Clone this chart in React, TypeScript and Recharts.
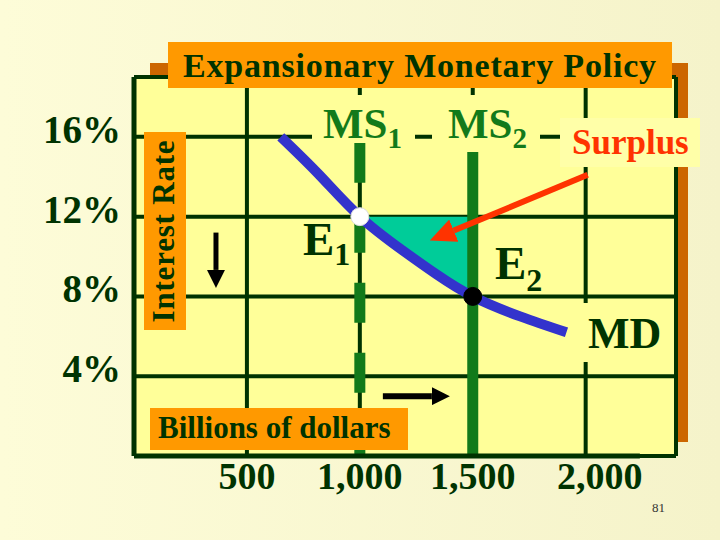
import { ComposedChart, Line, Area, XAxis, YAxis, CartesianGrid, ReferenceLine, ReferenceDot } from 'recharts';

// money market values
const xTicks = [500, 1000, 1500, 2000];
const yTicks = [4, 8, 12, 16];
const mdQuantity = [650, 820, 1000, 1190, 1340, 1500, 1710, 1915];
const mdRate = [16, 14.1, 12, 10.3, 9.1, 8, 7.0, 6.2];
const ms1Quantity = 1000;
const ms2Quantity = 1500;
const ms1Top = 15.7;
const ms2Top = 15.25;
const surplusRate = 12;
const e1 = { q: 1000, r: 12 };
const e2 = { q: 1500, r: 8 };
const axisEnd = 2240;

// annotation arrows (data units)
const surplusArrow = [{ x: 2009, y: 14.1 }, { x: 1416, y: 11.3 }];
const rateArrow = [{ x: 363, y: 11.2 }, { x: 363, y: 9.33 }];
const qtyArrow = [{ x: 1102, y: 3.0 }, { x: 1319, y: 3.0 }];

const data = mdQuantity.map((q, i) => ({
  q,
  md: mdRate[i],
  surplus: q >= ms1Quantity && q <= ms2Quantity ? [mdRate[i], surplusRate] : null,
}));

const DARK = '#003300';
const GREEN = '#127A1A';
const SERIF = '"Liberation Serif", "Times New Roman", serif';

const XTick = ({ x, y, payload }: any) => (
  <text x={x + (payload.value === 2000 ? 14 : 0)} y={y} dy="0.71em" textAnchor="middle"
    fill={DARK} fontSize={38} fontWeight="bold" fontFamily={SERIF}>
    {payload.value.toLocaleString('en-US')}
  </text>
);

const YTick = ({ y, payload }: any) => (
  <text x={121} y={y + 6} textAnchor="end" fill={DARK} fontSize={39} fontWeight="bold" fontFamily={SERIF}>
    {payload.value}%
  </text>
);

export default function App() {
  return (
    <div style={{ position: 'absolute', left: 0, top: 0, width: 720, height: 540, background: 'linear-gradient(to right, #FDFCD8, #F5F3CA)', overflow: 'hidden' }}>
      <div style={{ position: 'absolute', left: 150, top: 63, width: 538, height: 379, background: '#CC6600' }} />
      <svg width={0} height={0} style={{ position: 'absolute' }}>
        <defs>
          <marker id="headRed" markerUnits="userSpaceOnUse" markerWidth={26} markerHeight={24} refX={0} refY={12} orient="auto">
            <path d="M0,0 L26,12 L0,24 z" fill="#FF3300" />
          </marker>
          <marker id="headBlack" markerUnits="userSpaceOnUse" markerWidth={18} markerHeight={18} refX={0} refY={9} orient="auto">
            <path d="M0,0 L18,9 L0,18 z" fill="#000" />
          </marker>
        </defs>
      </svg>
      <div style={{ position: 'absolute', left: 0, top: 0 }}>
        <ComposedChart width={720} height={540} data={data} margin={{ top: 77, right: 44, bottom: 0, left: 0 }}>
          <CartesianGrid stroke={DARK} strokeWidth={4} fill="#FFFF99" fillOpacity={1} />
          <XAxis dataKey="q" type="number" domain={[0, 2400]} ticks={xTicks} height={84}
            axisLine={false} tickLine={false} tickSize={0} tickMargin={6} tick={<XTick />} />
          <YAxis type="number" domain={[0, 19]} ticks={yTicks} width={134}
            axisLine={{ stroke: DARK, strokeWidth: 5 }} tickLine={false} tick={<YTick />} />
          <Area dataKey="surplus" type="natural" stroke="none" fill="#00CC99" fillOpacity={1} isAnimationActive={false} />
          <ReferenceLine segment={[{ x: ms1Quantity, y: ms1Top }, { x: ms1Quantity, y: 0 }]}
            stroke={GREEN} strokeWidth={11} strokeDasharray="40 30" />
          <ReferenceLine segment={[{ x: ms2Quantity, y: ms2Top }, { x: ms2Quantity, y: 0 }]}
            stroke={GREEN} strokeWidth={11} />
          <ReferenceLine segment={[{ x: 0, y: 0 }, { x: axisEnd, y: 0 }]} stroke={DARK} strokeWidth={5} />
          <Line dataKey="md" type="natural" stroke="#3333CC" strokeWidth={10} dot={false} isAnimationActive={false} />
          <ReferenceDot x={e1.q} y={e1.r} r={9} fill="#FFFFFF" stroke="#DDDDDD" strokeWidth={1} />
          <ReferenceDot x={e2.q} y={e2.r} r={9} fill="#000000" stroke="#000000" />
          <ReferenceLine segment={surplusArrow} stroke="#FF3300" strokeWidth={6} markerEnd="url(#headRed)" />
          <ReferenceLine segment={rateArrow} stroke="#000" strokeWidth={5} markerEnd="url(#headBlack)" />
          <ReferenceLine segment={qtyArrow} stroke="#000" strokeWidth={6} markerEnd="url(#headBlack)" />
        </ComposedChart>
      </div>
      <svg width={720} height={540} style={{ position: 'absolute', left: 0, top: 0, pointerEvents: 'none' }} fontFamily={SERIF}>
        <rect x={168} y={42} width={504} height={46} fill="#FF9900" />
        <text x={420} y={77} textAnchor="middle" fill={DARK} fontSize={34} fontWeight="bold" letterSpacing={0.8}>Expansionary Monetary Policy</text>

        <rect x={144} y={132} width={42} height={198} fill="#FF9900" />
        <text transform="translate(165,231) rotate(-90)" y={9} textAnchor="middle" fill={DARK} fontSize={31} fontWeight="bold" letterSpacing={0.8}>Interest Rate</text>

        <rect x={150} y={408} width={258} height={42} fill="#FF9900" />
        <text x={158} y={438} fill={DARK} fontSize={31} fontWeight="bold">Billions of dollars</text>

        <rect x={312} y={95} width={103} height={48} fill="#FFFF99" />
        <text x={323} y={138} fill={GREEN} fontSize={43} fontWeight="bold">MS<tspan fontSize={29} dy={10}>1</tspan></text>

        <rect x={432} y={95} width={108} height={57} fill="#FFFF99" />
        <text x={448} y={138} fill={GREEN} fontSize={43} fontWeight="bold">MS<tspan fontSize={29} dy={10}>2</tspan></text>

        <rect x={560} y={118} width={140} height={49} fill="#FFFFA8" />
        <text x={572} y={154} fill="#FF3300" fontSize={35} fontWeight="bold">Surplus</text>

        <rect x={575} y={303} width={90} height={59} fill="#FFFF99" />
        <text x={588} y={348} fill={DARK} fontSize={44} fontWeight="bold">MD</text>

        <text x={303} y={255} fill={DARK} fontSize={47} fontWeight="bold">E<tspan fontSize={32} dy={10}>1</tspan></text>
        <text x={495} y={279} fill={DARK} fontSize={47} fontWeight="bold">E<tspan fontSize={32} dy={12}>2</tspan></text>

        <text x={652} y={512} fill="#333" fontSize={13}>81</text>
      </svg>
    </div>
  );
}
